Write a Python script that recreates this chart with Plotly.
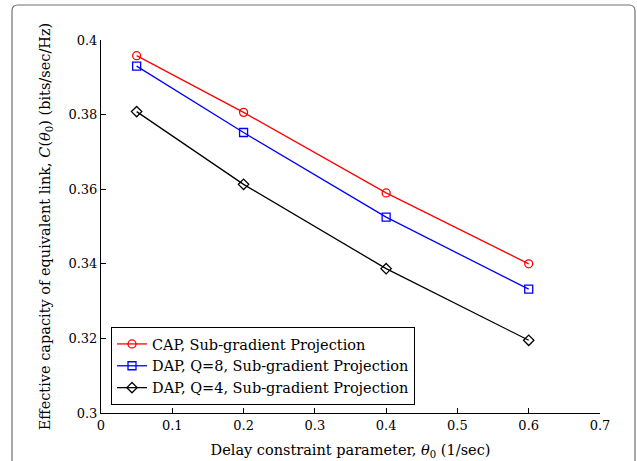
import plotly.graph_objects as go

theta = [0.05, 0.2, 0.4, 0.6]
cap_sg = [0.3958, 0.3806, 0.3590, 0.3400]
dap8_sg = [0.3930, 0.3752, 0.3525, 0.3332]
dap4_sg = [0.3808, 0.3613, 0.3387, 0.3195]

names = ["CAP, Sub-gradient Projection",
         "DAP, Q=8, Sub-gradient Projection",
         "DAP, Q=4, Sub-gradient Projection"]
colors = ["#ff0000", "#0000ff", "#000000"]
symbols = ["circle-open", "square-open", "diamond-open"]
series = [cap_sg, dap8_sg, dap4_sg]

FONT = "DejaVu Serif, Liberation Serif, serif"

fig = go.Figure()
for n, c, s, y in zip(names, colors, symbols, series):
    fig.add_trace(go.Scatter(x=theta, y=y, name=n, mode="lines+markers",
                             line=dict(color=c, width=1.3),
                             marker=dict(symbol=s, size=8, color=c, line=dict(width=1.3, color=c))))

W, H = 637, 461
L, R, T, B = 101, 37, 40, 48
pw, ph = W - L - R, H - T - B

def px(x):
    return (x - L) / pw

def py(y):
    return (H - B - y) / ph

x0, x1, y0, y1 = px(12), px(635), py(470), py(5)
rx, ry = 6 / pw, 6 / ph
path = (f"M {x0},{y0} L {x0},{y1-ry} Q {x0},{y1} {x0+rx},{y1} "
        f"L {x1-rx},{y1} Q {x1},{y1} {x1},{y1-ry} L {x1},{y0}")

fig.update_layout(
    width=W, height=H,
    margin=dict(l=L, r=R, t=T, b=B, autoexpand=False),
    paper_bgcolor="white", plot_bgcolor="white",
    font=dict(family=FONT, size=13, color="black"),
    shapes=[dict(type="path", xref="paper", yref="paper", path=path,
                 line=dict(color="#707070", width=1.2), layer="below")],
    legend=dict(x=px(111), y=py(327), xanchor="left", yanchor="top",
                bordercolor="black", borderwidth=1, bgcolor="white",
                font=dict(family=FONT, size=14.5), tracegroupgap=0, itemwidth=30),
    xaxis=dict(range=[0, 0.7], tickvals=[0, 0.1, 0.2, 0.3, 0.4, 0.5, 0.6, 0.7],
               ticktext=["0", "0.1", "0.2", "0.3", "0.4", "0.5", "0.6", "0.7"],
               ticks="inside", ticklen=5, tickcolor="black", showline=True,
               linecolor="black", linewidth=1, showgrid=False, zeroline=False,
               automargin=False,
               title=dict(text="Delay constraint parameter, <i>θ</i><sub>0</sub> (1/sec)",
                          font=dict(family=FONT, size=14.5), standoff=13)),
    yaxis=dict(range=[0.3, 0.4], tickvals=[0.3, 0.32, 0.34, 0.36, 0.38, 0.4],
               ticktext=["0.3", "0.32", "0.34", "0.36", "0.38", "0.4"],
               ticks="inside", ticklen=5, tickcolor="black", showline=True,
               linecolor="black", linewidth=1, showgrid=False, zeroline=False,
               automargin=False,
               title=dict(text="Effective capacity of equivalent link, <i>C</i>(<i>θ</i><sub>0</sub>) (bits/sec/Hz)",
                          font=dict(family=FONT, size=14.5), standoff=14)),
)

fig.write_html("out.html", config={"displayModeBar": False},
               post_script="document.body.style.margin='0';")
